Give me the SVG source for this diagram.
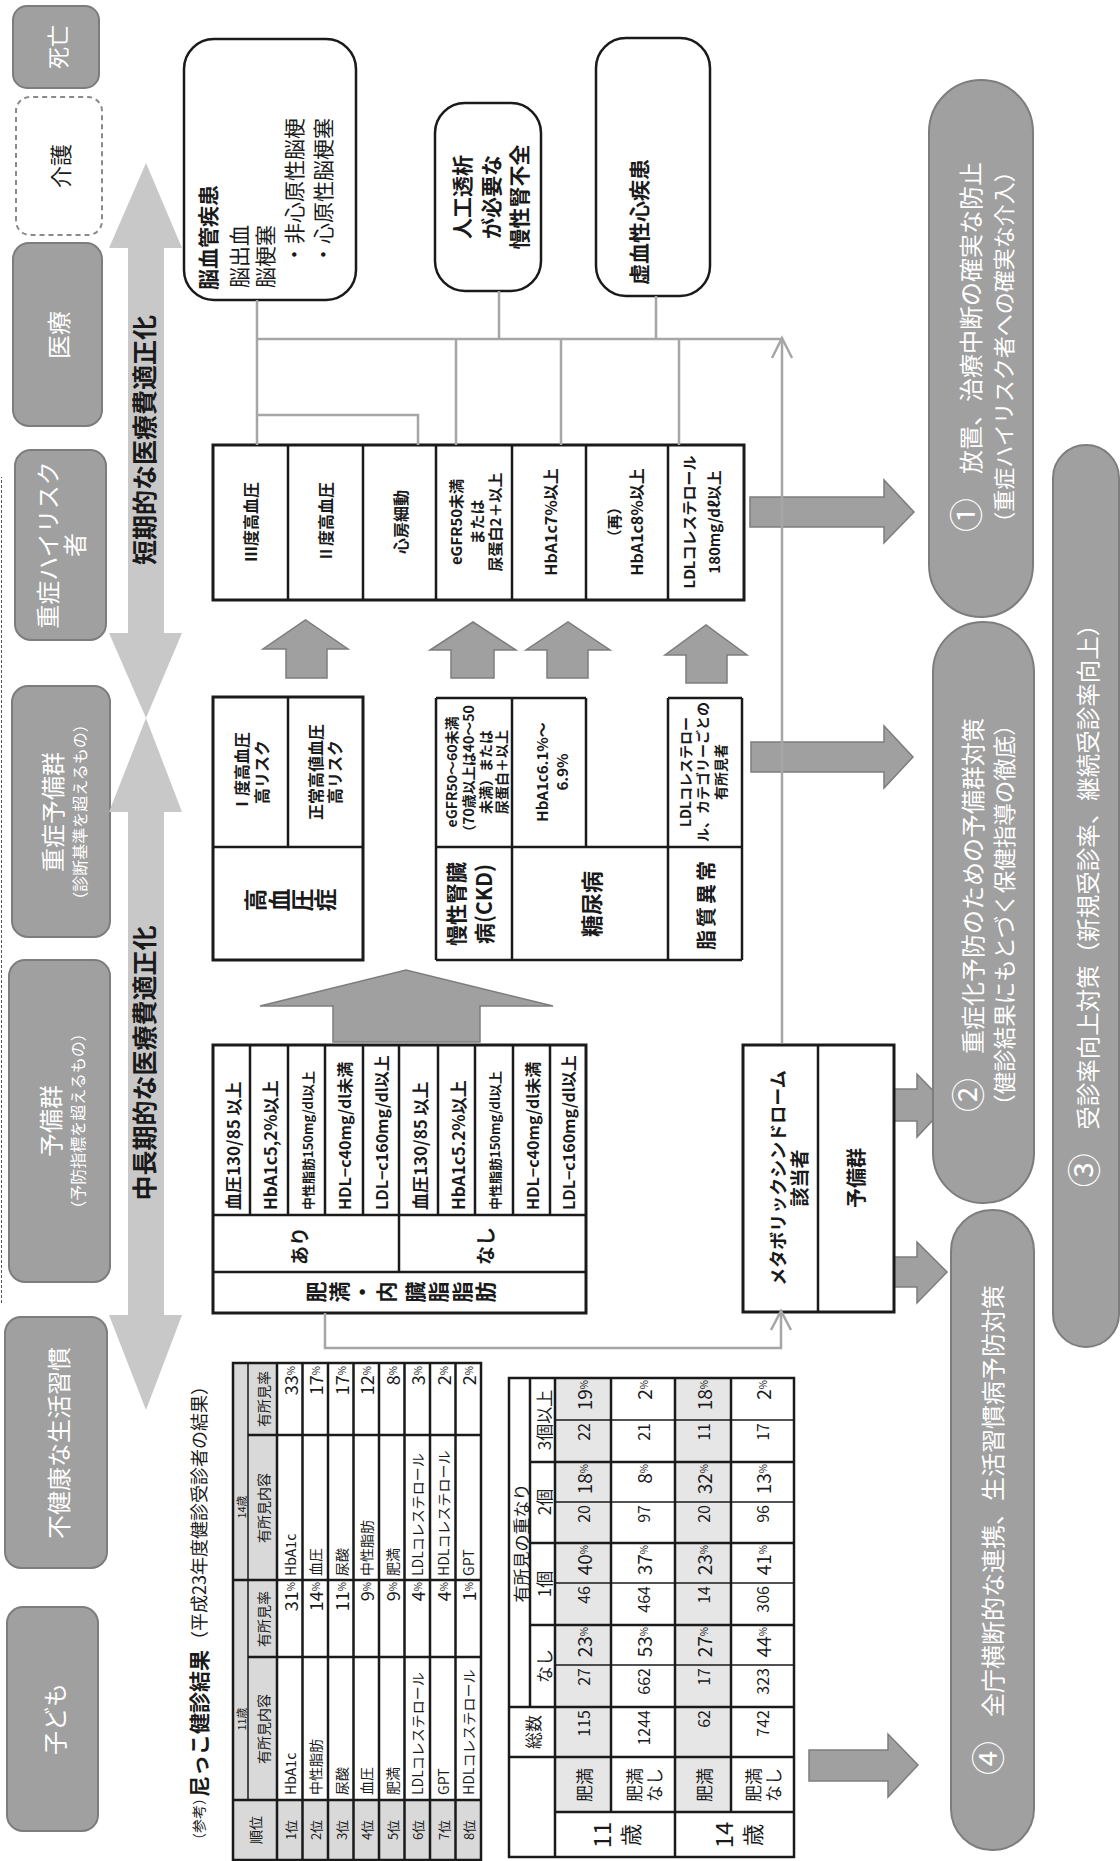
<svg xmlns="http://www.w3.org/2000/svg" width="1120" height="1861" viewBox="0 0 1120 1861">
<style>
text{font-family:"Noto Sans CJK JP","Noto Sans",sans-serif;fill:#1a1a1a}
.c{text-anchor:middle;dominant-baseline:central}
.m{dominant-baseline:central}
.e{text-anchor:end;dominant-baseline:central}
.w{fill:#fff}
.b{font-weight:700}
.gb{fill:#a0a0a0;stroke:#7d7d7d;stroke-width:2}
.dbl{fill:#c8c8c8}
.blk{fill:#a0a0a0;stroke:#7d7d7d;stroke-width:1.5}
.tb{fill:#fff;stroke:#1a1a1a;stroke-width:3}
.tl{stroke:#1a1a1a;stroke-width:2.5;fill:none}
.th{stroke:#1a1a1a;stroke-width:1.5;fill:none}
.con{stroke:#a6a6a6;stroke-width:2.5;fill:none}
.rb{fill:#fff;stroke:#1a1a1a;stroke-width:2.5}
.cn{font-size:34px}
</style>
<rect width="1120" height="1861" fill="#fff"/>
<g transform="translate(0,1861) rotate(-90)">

<!-- stage boxes -->
<g id="stages">
<g id="n-shibo"><rect class="gb" x="1773" y="13" width="82" height="86" rx="14"/><text class="c w" x="1814" y="56" font-size="22">死亡</text></g>
<g id="n-kaigo"><rect x="1626" y="16" width="138" height="86" rx="14" fill="#fff" stroke="#8a8a8a" stroke-width="2" stroke-dasharray="5 4"/><text class="c" x="1695" y="59" font-size="22">介護</text></g>
<g id="n-iryo"><rect class="gb" x="1435" y="13" width="183" height="89" rx="16"/><text class="c w" x="1526" y="57" font-size="24">医療</text></g>
<g id="n-highrisk"><rect class="gb" x="1221" y="15" width="190" height="91" rx="16"/><text class="c w" x="1316" y="46" font-size="24">重症ハイリスク</text><text class="c w" x="1316" y="73" font-size="24">者</text></g>
<g id="n-jushoyobi"><rect class="gb" x="924" y="12" width="251" height="98" rx="16"/><text class="c w" x="1049" y="51" font-size="24">重症予備群</text><text class="c w" x="1049" y="79" font-size="16">（診断基準を超えるもの）</text></g>
<g id="n-yobi"><rect class="gb" x="579" y="9" width="322" height="101" rx="16"/><text class="c w" x="740" y="49" font-size="24">予備群</text><text class="c w" x="740" y="77" font-size="16">（予防指標を超えるもの）</text></g>
<g id="n-fukenko"><rect class="gb" x="293" y="5" width="251" height="102" rx="16"/><text class="c w" x="418" y="57" font-size="24">不健康な生活習慣</text></g>
<g id="n-kodomo"><rect class="gb" x="30" y="7" width="224" height="91" rx="16"/><text class="c w" x="142" y="53" font-size="24">子ども</text></g>
<line x1="558" y1="1.5" x2="1384" y2="1.5" stroke="#555" stroke-width="1" stroke-dasharray="3 2"/>
</g>

<!-- double arrows -->
<g id="n-short">
<polygon class="dbl" points="1698,146 1613,109 1613,128 1228,128 1228,109 1143,146 1228,182 1228,164 1613,164 1613,182"/>
<text class="c b" x="1421" y="143" font-size="25">短期的な医療費適正化</text>
</g>
<g id="n-long">
<polygon class="dbl" points="1143,146 1049,109 1049,128 546,128 546,109 451,146 546,182 546,164 1049,164 1049,182"/>
<text class="c b" x="798" y="143" font-size="25">中長期的な医療費適正化</text>
</g>

<!-- disease boxes -->
<g id="n-noukekkan">
<rect class="rb" x="1561" y="184" width="261" height="172" rx="30"/>
<text class="m b" x="1571" y="207" font-size="21">脳血管疾患</text>
<text class="m" x="1573" y="238" font-size="21">脳出血</text>
<text class="m" x="1573" y="264" font-size="21">脳梗塞</text>
<text class="m" x="1596" y="293" font-size="21">・非心原性脳梗</text>
<text class="m" x="1596" y="322" font-size="21">・心原性脳梗塞</text>
</g>
<g id="n-jinfuzen">
<rect class="rb" x="1570" y="435" width="188" height="106" rx="30"/>
<text class="c b" x="1664" y="461" font-size="21">人工透析</text>
<text class="c b" x="1664" y="490" font-size="21">が必要な</text>
<text class="c b" x="1664" y="518" font-size="21">慢性腎不全</text>
</g>
<g id="n-kyoketsu">
<rect class="rb" x="1565" y="596" width="258" height="114" rx="30"/>
<text class="m b" x="1576" y="638" font-size="21">虚血性心疾患</text>
</g>

<!-- top criteria table -->
<g id="n-highrisk-table">
<rect class="tb" x="1261" y="213" width="155" height="531"/>
<path class="tl" d="M1261 288H1416M1261 363H1416M1261 436H1416M1261 512H1416M1261 586H1416M1261 668H1416"/>
<text class="c b" x="1339" y="250" font-size="16">Ⅲ度高血圧</text>
<text class="c b" x="1339" y="325" font-size="16">Ⅱ度高血圧</text>
<text class="c b" x="1339" y="400" font-size="16">心房細動</text>
<text class="c b" x="1339" y="455" font-size="15">eGFR50未満</text>
<text class="c b" x="1339" y="476" font-size="15">または</text>
<text class="c b" x="1339" y="494" font-size="15">尿蛋白2＋以上</text>
<text class="c b" x="1339" y="550" font-size="16">HbA1c7%以上</text>
<text class="c b" x="1339" y="613" font-size="15">（再）</text>
<text class="c b" x="1339" y="636" font-size="16">HbA1c8%以上</text>
<text class="c b" x="1339" y="688" font-size="15">LDLコレステロール</text>
<text class="c b" x="1339" y="713" font-size="15">180mg/dℓ以上</text>
</g>

<!-- middle left table -->
<g id="n-koketsuatsu">
<rect class="tb" x="901" y="213" width="263" height="150"/>
<path class="tl" d="M1014 213V363M1014 288H1164"/>
<text class="c b" x="1089" y="241" font-size="16">Ⅰ度高血圧</text>
<text class="c b" x="1089" y="261" font-size="16">高リスク</text>
<text class="c b" x="1089" y="315" font-size="16">正常高値血圧</text>
<text class="c b" x="1089" y="334" font-size="16">高リスク</text>
<text class="c b" x="961" y="254" font-size="23">高</text>
<text class="c b" x="961" y="278" font-size="23">血</text>
<text class="c b" x="961" y="301" font-size="23">圧</text>
<text class="c b" x="961" y="324" font-size="23">症</text>
</g>

<!-- middle right table -->
<g id="n-ckd-table">
<rect x="901" y="436" width="262" height="306" fill="#fff"/>
<path class="tl" stroke-width="3" d="M901 436V742M901 436H1163M901 742H1163M1163 436V586M1163 668V742"/>
<path class="tl" d="M1014 436V742M901 512H1163M1014 586H1163M901 668H1163"/>
<text class="c b" x="1089" y="451" font-size="14">eGFR50～60未満</text>
<text class="c b" x="1089" y="468" font-size="14">（70歳以上は40～50</text>
<text class="c b" x="1089" y="485" font-size="14">未満）または</text>
<text class="c b" x="1089" y="501" font-size="14">尿蛋白＋以上</text>
<text class="c b" x="1089" y="541" font-size="15">HbA1c6.1%～</text>
<text class="c b" x="1089" y="561" font-size="15">6.9%</text>
<text class="c b" x="1089" y="685" font-size="14">LDLコレステロー</text>
<text class="c b" x="1089" y="702" font-size="14">ル、カテゴリーごとの</text>
<text class="c b" x="1089" y="720" font-size="14">有所見者</text>
<text class="c b" x="957" y="455" font-size="21">慢性腎臓</text>
<text class="c b" x="957" y="483" font-size="21">病(CKD)</text>
<text class="c b" x="957" y="590" font-size="22">糖尿病</text>
<text class="c b" x="957" y="705" font-size="20" letter-spacing="3">脂質異常</text>
</g>

<!-- block arrows -->
<g id="arrows">
<polygon class="blk" points="819,333 855,333 855,260 891,406 855,553 855,480 819,480"/>
<polygon class="blk" points="1183,286 1212,286 1212,263 1241,305.5 1212,348 1212,327 1183,327"/>
<polygon class="blk" points="1183,451 1211,451 1211,430 1239,473 1211,516 1211,494 1183,494"/>
<polygon class="blk" points="1183,547 1211,547 1211,526 1239,568 1211,610 1211,588 1183,588"/>
<polygon class="blk" points="1178,686 1206,686 1206,665 1236,706 1206,747 1206,727 1178,727"/>
<polygon class="blk" points="1334,750 1334,884 1318,884 1349,914 1381,884 1364,884 1364,750"/>
<polygon class="blk" points="1089,751 1089,884 1073,884 1104,913 1135,884 1119,884 1119,751"/>
<polygon class="blk" points="740,894 740,917 724,917 756,947 787,917 772,917 772,894"/>
<polygon class="blk" points="574,894 574,917 558,917 589,947 619,917 604,917 604,894"/>
<polygon class="blk" points="80,809 80,888 64,888 96,918 127,888 111,888 111,809"/>
</g>

<!-- obesity table -->
<g id="n-himan-table">
<rect class="tb" x="548" y="213" width="268" height="373"/>
<path class="tl" d="M646 213V586M589 213V586M646 250H816M646 288H816M646 325H816M646 363H816M646 438H816M646 475H816M646 513H816M646 550H816"/>
<path class="tl" stroke-width="3" d="M589 399H816"/>
<text class="m b" x="651" y="232" font-size="17">血圧130/85 以上</text>
<text class="m b" x="651" y="269" font-size="17">HbA1c5,2%以上</text>
<text class="m b" x="651" y="307" font-size="13">中性脂肪150mg/dl以上</text>
<text class="m b" x="651" y="344" font-size="16">HDL−c40mg/dl未満</text>
<text class="m b" x="651" y="381" font-size="16">LDL−c160mg/dl以上</text>
<text class="m b" x="651" y="419" font-size="17">血圧130/85 以上</text>
<text class="m b" x="651" y="457" font-size="17">HbA1c5.2%以上</text>
<text class="m b" x="651" y="494" font-size="13">中性脂肪150mg/dl以上</text>
<text class="m b" x="651" y="532" font-size="16">HDL−c40mg/dl未満</text>
<text class="m b" x="651" y="568" font-size="16">LDL−c160mg/dl以上</text>
<text class="c b" x="615" y="298" font-size="19">あり</text>
<text class="c b" x="615" y="484" font-size="19">なし</text>
<text class="c b" x="569" y="315" font-size="21">肥</text>
<text class="c b" x="569" y="338" font-size="21">満</text>
<text class="c b" x="569" y="361" font-size="21">・</text>
<text class="c b" x="569" y="385" font-size="21">内</text>
<text class="c b" x="569" y="414" font-size="21">臓</text>
<text class="c b" x="569" y="437" font-size="21">脂</text>
<text class="c b" x="569" y="461" font-size="21">脂</text>
<text class="c b" x="569" y="484" font-size="21">肪</text>
</g>

<!-- metabo box -->
<g id="n-metabo">
<rect class="tb" x="549" y="743" width="267" height="151"/>
<path class="tl" d="M549 818H816"/>
<text class="c b" x="683" y="777" font-size="18">メタボリックシンドローム</text>
<text class="c b" x="683" y="798" font-size="19">該当者</text>
<text class="c b" x="683" y="855" font-size="20">予備群</text>
</g>

<!-- pills -->
<g id="n-p1"><rect class="gb" x="1244" y="929" width="537" height="104" rx="52"/>
<text class="c w" x="1514" y="969" font-size="24"><tspan class="cn" dy="-5">①</tspan><tspan dy="5">　放置、治療中断の確実な防止</tspan></text>
<text class="c w" x="1514" y="1002" font-size="22">（重症ハイリスク者への確実な介入）</text></g>
<g id="n-p2"><rect class="gb" x="658" y="933" width="581" height="101" rx="50"/>
<text class="c w" x="946" y="971" font-size="24"><tspan class="cn" dy="-5">②</tspan><tspan dy="5">　重症化予防のための予備群対策</tspan></text>
<text class="c w" x="946" y="1003" font-size="22.5">（健診結果にもとづく保健指導の徹底）</text></g>
<g id="n-p3"><rect class="gb" x="514" y="1053" width="902" height="66" rx="33"/>
<text class="c w" x="961" y="1087" font-size="23.5"><tspan class="cn" dy="-5">③</tspan><tspan dy="5">　受診率向上対策（新規受診率、継続受診率向上）</tspan></text></g>
<g id="n-p4"><rect class="gb" x="11" y="951" width="640" height="83" rx="41"/>
<text class="c w" x="331" y="991" font-size="24"><tspan class="cn" dy="-5">④</tspan><tspan dy="5">　全庁横断的な連携、生活習慣病予防対策</tspan></text></g>

<!-- connectors -->
<g id="connectors" class="con">
<path d="M1416 257H1561M1522 257V783M1446 257V418H1416M1416 456H1522M1416 561H1522M1416 679H1522M1522 499H1570M1522 656H1565"/>
<path d="M818 782H1522"/>
<polyline points="1503,772 1523,782 1503,792"/>
<polyline points="548,325 513,325 513,781 549,781"/>
<polyline points="531,771 550,781 531,791"/>
</g>

<!-- title -->
<text x="14" y="198" class="m"><tspan font-size="14">（参考）</tspan><tspan x="64" font-size="21" font-weight="700">尼っこ健診結果</tspan><tspan x="212" font-size="18">（平成23年度健診受診者の結果）</tspan></text>

<!-- ranking table -->
<g id="n-rank-table">
<rect x="1" y="233" width="497" height="44" fill="#d9d9d9"/>
<rect x="1" y="277" width="60" height="204" fill="#d9d9d9"/>
<rect class="tl" x="1" y="233" width="497" height="248"/>
<path class="tl" d="M61 233V481M281 233V481M204 248V481M426 248V481M1 277H498M1 302.5H498M1 328H498M1 353.5H498M1 379H498M1 404.5H498M1 430H498M1 455.5H498"/>
<path class="th" d="M61 248H498"/>
<text class="c" x="31" y="255" font-size="14">順位</text>
<text class="c" x="142" y="241" font-size="11">11歳</text>
<text class="c" x="354" y="241" font-size="11">14歳</text>
<text class="c" x="132" y="263" font-size="14">有所見内容</text>
<text class="c" x="242" y="263" font-size="14">有所見率</text>
<text class="c" x="353" y="263" font-size="14">有所見内容</text>
<text class="c" x="462" y="263" font-size="14">有所見率</text>
<g font-size="13" class="c">
<text class="c" x="31" y="290">1位</text><text class="c" x="31" y="315">2位</text><text class="c" x="31" y="341">3位</text><text class="c" x="31" y="366">4位</text><text class="c" x="31" y="392">5位</text><text class="c" x="31" y="417">6位</text><text class="c" x="31" y="443">7位</text><text class="c" x="31" y="468">8位</text>
</g>
<g font-size="14">
<text class="m" x="66" y="290">HbA1c</text><text class="m" x="66" y="315">中性脂肪</text><text class="m" x="66" y="341">尿酸</text><text class="m" x="66" y="366">血圧</text><text class="m" x="66" y="392">肥満</text><text class="m" x="66" y="417">LDLコレステロール</text><text class="m" x="66" y="443">GPT</text><text class="m" x="66" y="468">HDLコレステロール</text>
<text class="m" x="285" y="290">HbA1c</text><text class="m" x="285" y="315">血圧</text><text class="m" x="285" y="341">尿酸</text><text class="m" x="285" y="366">中性脂肪</text><text class="m" x="285" y="392">肥満</text><text class="m" x="285" y="417">LDLコレステロール</text><text class="m" x="285" y="443">HDLコレステロール</text><text class="m" x="285" y="468">GPT</text>
</g>
<g font-size="18">
<text class="e" x="279" y="290">31<tspan font-size="10">%</tspan></text><text class="e" x="279" y="315">14<tspan font-size="10">%</tspan></text><text class="e" x="279" y="341">11<tspan font-size="10">%</tspan></text><text class="e" x="279" y="366">9<tspan font-size="10">%</tspan></text><text class="e" x="279" y="392">9<tspan font-size="10">%</tspan></text><text class="e" x="279" y="417">4<tspan font-size="10">%</tspan></text><text class="e" x="279" y="443">4<tspan font-size="10">%</tspan></text><text class="e" x="279" y="468">1<tspan font-size="10">%</tspan></text>
<text class="e" x="495" y="290">33<tspan font-size="10">%</tspan></text><text class="e" x="495" y="315">17<tspan font-size="10">%</tspan></text><text class="e" x="495" y="341">17<tspan font-size="10">%</tspan></text><text class="e" x="495" y="366">12<tspan font-size="10">%</tspan></text><text class="e" x="495" y="392">8<tspan font-size="10">%</tspan></text><text class="e" x="495" y="417">3<tspan font-size="10">%</tspan></text><text class="e" x="495" y="443">2<tspan font-size="10">%</tspan></text><text class="e" x="495" y="468">2<tspan font-size="10">%</tspan></text>
</g>
</g>

<!-- overlap table -->
<g id="n-overlap-table">
<rect x="4" y="509" width="479" height="285" fill="#fff"/>
<rect x="49" y="555" width="434" height="56" fill="#e6e6e6"/>
<rect x="49" y="675" width="434" height="56" fill="#e6e6e6"/>
<rect class="tl" x="4" y="509" width="479" height="285"/>
<path class="tl" d="M49 555V794M104 509V794M154 509V794M236 530V794M318 530V794M399 530V794M154 530H483M4 555H483M49 611H483M4 675H483M49 731H483"/>
<path class="th" d="M196 555V794M278 555V794M359 555V794M441 555V794"/>
<text class="c" x="129" y="532" font-size="17">総数</text>
<text class="c" x="318" y="520" font-size="17">有所見の重なり</text>
<text class="c" x="195" y="543" font-size="17">なし</text>
<text class="c" x="277" y="543" font-size="17">1個</text>
<text class="c" x="359" y="543" font-size="17">2個</text>
<text class="c" x="441" y="543" font-size="17">3個以上</text>
<text class="c" x="26" y="600" font-size="24">11</text>
<text class="c" x="26" y="629" font-size="22">歳</text>
<text class="c" x="26" y="722" font-size="24">14</text>
<text class="c" x="26" y="751" font-size="22">歳</text>
<text class="c" x="76" y="583" font-size="17">肥満</text>
<text class="c" x="76" y="633" font-size="17">肥満</text>
<text class="c" x="76" y="653" font-size="17">なし</text>
<text class="c" x="76" y="703" font-size="17">肥満</text>
<text class="c" x="76" y="752" font-size="17">肥満</text>
<text class="c" x="76" y="772" font-size="17">なし</text>
<g font-size="16">
<text class="e" x="151" y="583">115</text><text class="e" x="193" y="583">27</text><text class="e" x="275" y="583">46</text><text class="e" x="356" y="583">20</text><text class="e" x="438" y="583">22</text>
<text class="e" x="151" y="643">1244</text><text class="e" x="193" y="643">662</text><text class="e" x="275" y="643">464</text><text class="e" x="356" y="643">97</text><text class="e" x="438" y="643">21</text>
<text class="e" x="151" y="703">62</text><text class="e" x="193" y="703">17</text><text class="e" x="275" y="703">14</text><text class="e" x="356" y="703">20</text><text class="e" x="438" y="703">11</text>
<text class="e" x="151" y="762">742</text><text class="e" x="193" y="762">323</text><text class="e" x="275" y="762">306</text><text class="e" x="356" y="762">96</text><text class="e" x="438" y="762">17</text>
</g>
<g font-size="19">
<text class="e" x="234" y="583">23<tspan font-size="10">%</tspan></text><text class="e" x="316" y="583">40<tspan font-size="10">%</tspan></text><text class="e" x="397" y="583">18<tspan font-size="10">%</tspan></text><text class="e" x="481" y="583">19<tspan font-size="10">%</tspan></text>
<text class="e" x="234" y="643">53<tspan font-size="10">%</tspan></text><text class="e" x="316" y="643">37<tspan font-size="10">%</tspan></text><text class="e" x="397" y="643">8<tspan font-size="10">%</tspan></text><text class="e" x="481" y="643">2<tspan font-size="10">%</tspan></text>
<text class="e" x="234" y="703">27<tspan font-size="10">%</tspan></text><text class="e" x="316" y="703">23<tspan font-size="10">%</tspan></text><text class="e" x="397" y="703">32<tspan font-size="10">%</tspan></text><text class="e" x="481" y="703">18<tspan font-size="10">%</tspan></text>
<text class="e" x="234" y="762">44<tspan font-size="10">%</tspan></text><text class="e" x="316" y="762">41<tspan font-size="10">%</tspan></text><text class="e" x="397" y="762">13<tspan font-size="10">%</tspan></text><text class="e" x="481" y="762">2<tspan font-size="10">%</tspan></text>
</g>
</g>

</g>
</svg>
